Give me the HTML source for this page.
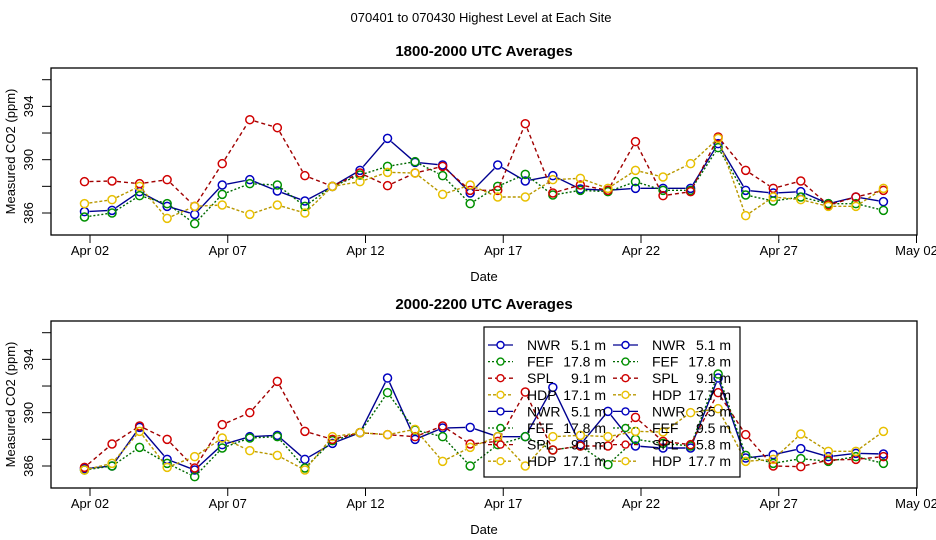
<!DOCTYPE html>
<html><head><meta charset="utf-8"><style>
html,body{margin:0;padding:0;background:#fff}
svg{display:block;font-family:"Liberation Sans",sans-serif}
</style></head><body>
<svg id="chart" width="936" height="540" viewBox="0 0 936 540" xmlns="http://www.w3.org/2000/svg">
<text x="481" y="22" text-anchor="middle" font-size="13">070401  to  070430 Highest Level at Each Site</text>
</svg>
<script>
// ---- data ----
const days = [1,2,3,4,5,6,7,8,9,10,11,12,13,14,15,16,17,18,19,20,21,22,23,24,25,26,27,28,29,30];
const timeOffset = 0.8;
const seriesNames = ["NWR","FEF","SPL","HDP"];
const yTicks = [386,388,390,392,394,396];
const yTickLabels = ["386","","390","","394",""];
const xTickDays = [2,7,12,17,22,27,32];
const xTickLabels = ["Apr 02","Apr 07","Apr 12","Apr 17","Apr 22","Apr 27","May 02"];
// top panel (1800-2000 UTC)
const topNWR = [386.1,386.2,387.6,386.5,385.9,388.1,388.5,387.65,386.9,388.0,389.2,391.6,389.8,389.6,387.5,389.6,388.4,388.8,387.8,387.7,387.85,387.85,387.85,391.2,387.7,387.5,387.6,386.7,387.2,386.85];
const topFEF = [385.7,386.0,387.3,386.7,385.2,387.4,388.2,388.1,386.5,388.0,388.85,389.5,389.85,388.8,386.7,388.0,388.9,387.35,387.7,387.6,388.35,387.7,387.7,390.9,387.35,386.9,387.2,386.7,386.7,386.2];
const topSPL = [388.35,388.4,388.2,388.5,386.5,389.7,393.0,392.4,388.8,388.0,389.0,388.05,389.0,389.5,387.7,387.7,392.7,387.5,388.1,387.7,391.35,387.3,387.6,391.7,389.2,387.85,388.4,386.6,387.2,387.7];
const topHDP = [386.7,387.0,388.0,385.6,386.5,386.6,385.9,386.6,386.0,388.0,388.35,389.05,389.0,387.4,388.1,387.2,387.2,388.5,388.6,387.85,389.2,388.7,389.7,391.6,385.8,387.2,387.0,386.5,386.5,387.85];
// bottom panel (2000-2200 UTC)
const botNWR = [385.8,386.0,388.9,386.5,385.7,387.6,388.2,388.3,386.5,387.7,388.5,392.6,388.0,388.85,388.9,388.2,388.2,391.9,387.6,390.1,387.5,387.35,387.35,392.6,386.6,386.85,387.3,386.7,386.95,386.9];
const botFEF = [385.7,386.0,387.4,386.2,385.2,387.35,388.1,388.2,385.85,387.9,388.5,391.5,388.7,388.2,386.0,387.6,388.2,387.2,387.5,386.1,388.0,387.7,387.5,392.9,386.8,386.2,386.55,386.35,386.7,386.2];
const botSPL = [385.9,387.65,389.0,388.0,385.85,389.1,390.0,392.35,388.6,388.0,388.5,388.35,388.2,389.0,387.65,387.85,391.55,387.2,387.5,387.5,389.65,387.85,387.6,391.5,388.35,386.0,385.95,386.45,386.5,386.7];
const botHDP = [385.7,386.2,388.6,385.9,386.7,388.1,387.15,386.8,385.7,388.2,388.5,388.35,388.75,386.35,387.4,388.2,386.0,388.2,388.3,388.2,388.6,388.55,390.0,390.3,386.35,386.5,388.4,387.1,387.1,388.6];

// ---- layout ----
const NS="http://www.w3.org/2000/svg";
const svg=document.getElementById('chart');
const colors=["#0000c0","#009000","#d00000","#e8c000"];
const lineColors=["#000090","#006800","#a00000","#b89800"];
const dashes=["none","2,2","4,3","3,2"];
function mk(tag,attrs,parent){const e=document.createElementNS(NS,tag);for(const k in attrs)e.setAttribute(k,attrs[k]);(parent||svg).appendChild(e);return e;}
function xScale(d){return 90+(d-2)*27.55;}

function panel(off,title,data,prefix){
  const top=68+off,bottom=235+off,left=51,right=917;
  const yScale=v=>213+off-(v-386)*13.33;
  const g=mk('g',{});
  
  
  const t=mk('text',{x:484,y:56+off,'text-anchor':'middle','font-size':'15','font-weight':'bold'},g);
  t.textContent=title;
  
  
  const fr=mk('rect',{x:left,y:top,width:right-left,height:bottom-top,fill:'none',stroke:'#000','stroke-width':1.3},g);
  
  
  yTicks.forEach((v,i)=>{
    const y=yScale(v);
    mk('line',{x1:42,x2:left,y1:y,y2:y,stroke:'#000','stroke-width':1},g);
    if(yTickLabels[i]){
      const tl=mk('text',{x:0,y:0,transform:`translate(33,${y}) rotate(-90)`,'text-anchor':'middle','font-size':'13'},g);
      tl.textContent=yTickLabels[i];
      
      
    }
  });
  const yt=mk('text',{x:0,y:0,transform:`translate(15,${(top+bottom)/2}) rotate(-90)`,'text-anchor':'middle','font-size':'13'},g);
  yt.textContent='Measured CO2 (ppm)';
  
  
  xTickDays.forEach((d,i)=>{
    const x=xScale(d);
    mk('line',{x1:x,x2:x,y1:bottom,y2:bottom+8,stroke:'#000','stroke-width':1},g);
    const tl=mk('text',{x:x,y:bottom+20,'text-anchor':'middle','font-size':'13'},g);
    tl.textContent=xTickLabels[i];
    
    
  });
  const xt=mk('text',{x:484,y:bottom+46,'text-anchor':'middle','font-size':'13'},g);
  xt.textContent='Date';
  
  
  data.forEach((vals,s)=>{
    const pts=vals.map((v,i)=>[xScale(days[i]+timeOffset),yScale(v)]);
    const sg=mk('g',{},g);
    
    
    for(let i=0;i<pts.length-1;i++){
      const [x1,y1]=pts[i],[x2,y2]=pts[i+1];
      const dx=x2-x1,dy=y2-y1,L=Math.hypot(dx,dy);
      if(L<10)continue;
      const ux=dx/L*5,uy=dy/L*5;
      mk('line',{x1:x1+ux,y1:y1+uy,x2:x2-ux,y2:y2-uy,stroke:lineColors[s],'stroke-width':1.4,'stroke-dasharray':dashes[s]},sg);
    }
    pts.forEach(([x,y])=>{
      const c=mk('circle',{cx:x,cy:y,r:4,fill:'none',stroke:colors[s],'stroke-width':1.5},sg);
      
      
    });
  });
}
panel(0,'1800-2000 UTC Averages',[topNWR,topFEF,topSPL,topHDP],'top');
panel(253,'2000-2200 UTC Averages',[botNWR,botFEF,botSPL,botHDP],'bottom');

// ---- legend ----
const legNames=["NWR","FEF","SPL","HDP","NWR","FEF","SPL","HDP"];
const legCol1=["5.1 m","17.8 m","9.1 m","17.1 m","5.1 m","17.8 m","9.1 m","17.1 m"];
const legCol2=["5.1 m","17.8 m","9.1 m","17.7 m","3.5 m","9.5 m","5.8 m","17.7 m"];
const lg=mk('g',{});


mk('rect',{x:484,y:327,width:256,height:150,fill:'none',stroke:'#000','stroke-width':1.2},lg);
[[legCol1,488,527,606],[legCol2,613,652,731]].forEach(([vals,lx,tx,vx])=>{
  vals.forEach((v,i)=>{
    const y=345+i*16.6, s=i%4;
    const e=mk('g',{},lg);
    
    
    mk('line',{x1:lx,x2:lx+25,y1:y,y2:y,stroke:lineColors[s],'stroke-width':1.3,'stroke-dasharray':dashes[s]},e);
    mk('circle',{cx:lx+12.5,cy:y,r:3.5,fill:'#fff',stroke:colors[s],'stroke-width':1.4},e);
    const t1=mk('text',{x:tx,y:y+5,'font-size':'14'},e);t1.textContent=legNames[i];
    const t2=mk('text',{x:vx,y:y+5,'font-size':'14','text-anchor':'end'},e);t2.textContent=v;
  });
});
</script>
</body></html>
